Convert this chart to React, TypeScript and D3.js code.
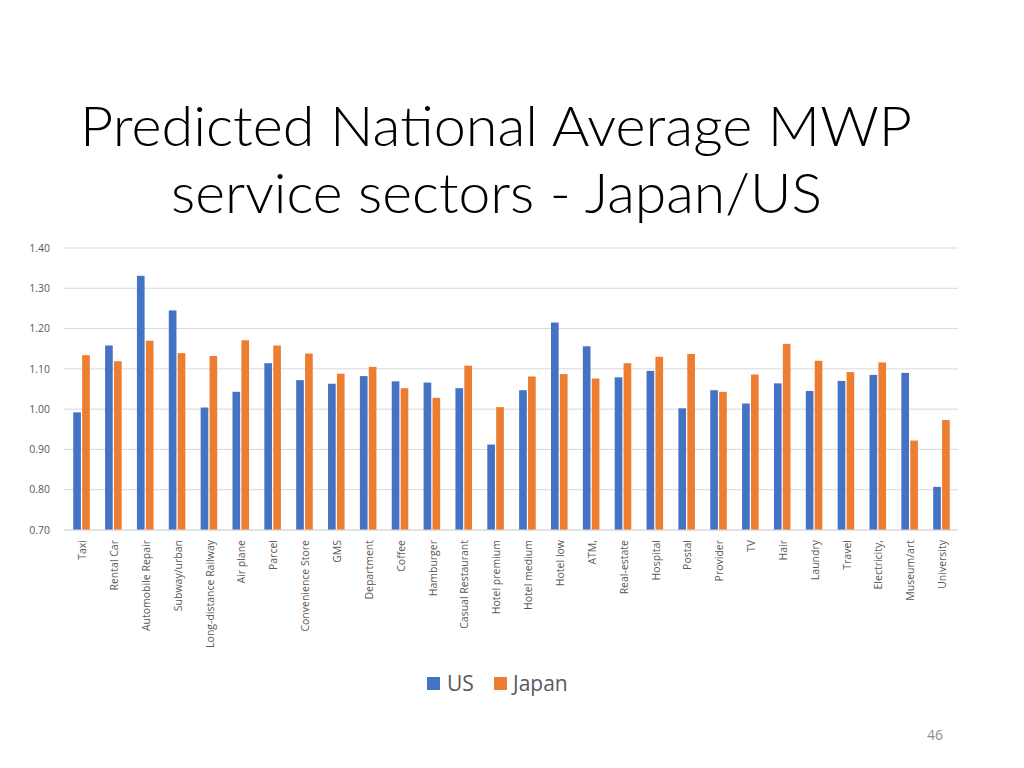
import React from "react";
import * as d3 from "d3";

const categories = [
  "Taxi", "Rental Car", "Automobile Repair", "Subway/urban", "Long-distance Railway",
  "Air plane", "Parcel", "Convenience Store", "GMS", "Department", "Coffee", "Hamburger",
  "Casual Restaurant", "Hotel premium", "Hotel medium", "Hotel low", "ATM,", "Real-estate",
  "Hospital", "Postal", "Provider", "TV", "Hair", "Laundry", "Travel", "Electricity,",
  "Museum/art", "University",
];

const usValues = [
  0.992, 1.158, 1.331, 1.245, 1.004, 1.043, 1.114, 1.072, 1.063, 1.082, 1.069, 1.066,
  1.052, 0.912, 1.047, 1.215, 1.156, 1.079, 1.095, 1.002, 1.047, 1.014, 1.064, 1.045,
  1.070, 1.085, 1.090, 0.807,
];

const japanValues = [
  1.134, 1.119, 1.170, 1.139, 1.132, 1.171, 1.158, 1.138, 1.088, 1.105, 1.052, 1.028,
  1.108, 1.005, 1.081, 1.087, 1.076, 1.114, 1.130, 1.137, 1.043, 1.086, 1.162, 1.120,
  1.092, 1.116, 0.922, 0.973,
];

const yTicks = [0.7, 0.8, 0.9, 1.0, 1.1, 1.2, 1.3, 1.4];
const seriesNames = ["US", "Japan"];
const seriesColors = ["#4472C4", "#ED7D31"];

export default function App() {
  const width = 1024;
  const height = 768;
  const plotLeft = 65.6;
  const plotRight = 957.4;
  const plotTop = 248;
  const plotBottom = 530;

  const x0 = d3
    .scaleBand<string>()
    .domain(categories)
    .range([plotLeft, plotRight])
    .paddingInner(0.48)
    .paddingOuter(0.24);
  const x1 = d3
    .scaleBand<string>()
    .domain(seriesNames)
    .range([0, x0.bandwidth()])
    .paddingInner(0.14);
  const y = d3.scaleLinear().domain([0.7, 1.4]).range([plotBottom, plotTop]);
  const fmt = d3.format(".2f");
  const series = [usValues, japanValues];
  const font = "'Open Sans', 'DejaVu Sans', sans-serif";
  const titleFont = "Lato, 'Open Sans', sans-serif";

  return (
    <svg
      width={width}
      height={height}
      style={{ position: "absolute", left: 0, top: 0, background: "#fff" }}
      fontFamily={font}
    >
      <rect x={0} y={0} width={width} height={height} fill="#fff" />
      <text
        x={496}
        y={146}
        textAnchor="middle"
        fontFamily={titleFont}
        fontSize={56}
        fontWeight={300}
        fill="#000"
        textLength={832}
        lengthAdjust="spacingAndGlyphs"
      >
        Predicted National Average MWP
      </text>
      <text
        x={496.5}
        y={213}
        textAnchor="middle"
        fontFamily={titleFont}
        fontSize={56}
        fontWeight={300}
        fill="#000"
        textLength={651}
        lengthAdjust="spacingAndGlyphs"
      >
        service sectors - Japan/US
      </text>

      {yTicks.map((t) => (
        <g key={t}>
          <line
            x1={64}
            x2={958}
            y1={y(t)}
            y2={y(t)}
            stroke="#d9d9d9"
            strokeWidth={1}
          />
          <text
            x={50}
            y={y(t)}
            dy="0.35em"
            textAnchor="end"
            fontSize={10.5}
            fill="#595959"
          >
            {fmt(t)}
          </text>
        </g>
      ))}

      {categories.map((c, i) => (
        <g key={c}>
          {series.map((vals, s) => (
            <rect
              key={s}
              x={(x0(c) ?? 0) + (x1(seriesNames[s]) ?? 0)}
              y={y(vals[i])}
              width={x1.bandwidth()}
              height={y(0.7) - y(vals[i])}
              fill={seriesColors[s]}
            />
          ))}
          <text
            transform={`translate(${(x0(c) ?? 0) + x0.bandwidth() / 2 + 1},${540}) rotate(-90)`}
            textAnchor="end"
            dy="0.35em"
            fontSize={10.5}
            fill="#595959"
          >
            {c}
          </text>
        </g>
      ))}

      <line x1={64} x2={958} y1={plotBottom} y2={plotBottom} stroke="#d9d9d9" />

      <g>
        <rect x={427} y={677} width={13} height={13} fill={seriesColors[0]} />
        <text x={447} y={691} fontSize={21} fill="#595959">
          {seriesNames[0]}
        </text>
        <rect x={494} y={677} width={13} height={13} fill={seriesColors[1]} />
        <text x={513} y={691} fontSize={21} fill="#595959">
          {seriesNames[1]}
        </text>
      </g>

      <text x={943} y={740} textAnchor="end" fontSize={14} fill="#8c8c8c">
        46
      </text>
    </svg>
  );
}
